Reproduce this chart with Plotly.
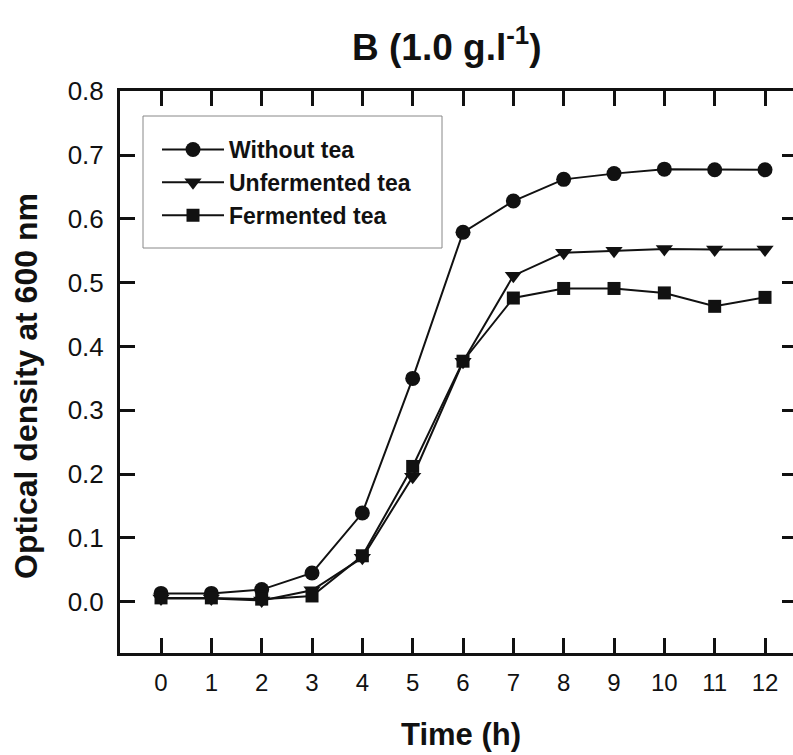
import plotly.graph_objects as go

# ---- data ----
time_h = [0, 1, 2, 3, 4, 5, 6, 7, 8, 9, 10, 11, 12]
without_tea = [0.013, 0.013, 0.019, 0.045, 0.139, 0.350, 0.579, 0.628, 0.662, 0.671, 0.678, 0.677, 0.677]
unfermented_tea = [0.005, 0.005, 0.002, 0.018, 0.069, 0.196, 0.376, 0.511, 0.547, 0.550, 0.553, 0.552, 0.552]
fermented_tea = [0.006, 0.006, 0.004, 0.009, 0.072, 0.212, 0.377, 0.476, 0.491, 0.491, 0.484, 0.463, 0.477]
series_names = ["Without tea", "Unfermented tea", "Fermented tea"]
y_ticks = [0.0, 0.1, 0.2, 0.3, 0.4, 0.5, 0.6, 0.7, 0.8]
x_ticks = time_h

FONT = "Liberation Sans, Arial, Helvetica, sans-serif"
W, H = 793, 755
ML, MR, MT, MB = 120, 0, 91, 102
PW, PH = W - ML - MR, H - MT - MB


def px(x):
    return (x - ML) / PW


def py(y):
    return (H - MB - y) / PH


fig = go.Figure()
series = [
    (without_tea, "circle", 15),
    (unfermented_tea, "triangle-down", 15),
    (fermented_tea, "square", 13),
]
for i, (vals, sym, size) in enumerate(series):
    fig.add_trace(go.Scatter(
        x=time_h, y=vals, name=series_names[i], mode="lines+markers",
        line=dict(color="#111111", width=2),
        marker=dict(symbol=sym, size=size, color="#111111"),
        legendgroup=f"g{i}",
    ))

# invisible trace to carry right-hand ticks
fig.add_trace(go.Scatter(x=[0], y=[0], yaxis="y2", mode="markers",
                         marker=dict(opacity=0), showlegend=False, hoverinfo="skip"))

fig.update_layout(
    width=W, height=H, autosize=False,
    margin=dict(l=ML, r=MR, t=MT, b=MB, pad=0),
    paper_bgcolor="white", plot_bgcolor="white",
    font=dict(family=FONT, color="#111111"),
    showlegend=True,
    legend=dict(
        x=px(157), y=py(128), xanchor="left", yanchor="top",
        bgcolor="rgba(0,0,0,0)", borderwidth=0,
        font=dict(family=FONT, size=23, color="#111111", weight="bold"),
        itemwidth=62, tracegroupgap=0, traceorder="grouped",
    ),
    xaxis=dict(
        range=[-0.815, 12.556], tickvals=x_ticks, ticktext=[str(v) for v in x_ticks],
        ticks="inside", ticklen=15, tickwidth=3, tickcolor="#111111",
        showline=True, linewidth=3, linecolor="#111111", mirror="ticks",
        showgrid=False, zeroline=False,
        tickfont=dict(family=FONT, size=24, color="#111111"),
        ticklabelstandoff=6,
    ),
    yaxis=dict(
        range=[-0.0804, 0.8005], tickvals=y_ticks, ticktext=[f"{v:.1f}" for v in y_ticks],
        ticks="inside", ticklen=15, tickwidth=3, tickcolor="#111111",
        showline=True, linewidth=3, linecolor="#111111", mirror=False,
        showgrid=False, zeroline=False,
        tickfont=dict(family=FONT, size=26, color="#111111"),
        ticklabelstandoff=8,
    ),
    yaxis2=dict(
        overlaying="y", side="right", range=[-0.0804, 0.8005], tickvals=y_ticks,
        ticks="inside", ticklen=11, tickwidth=3, tickcolor="#111111",
        showticklabels=False, showline=False, showgrid=False, zeroline=False,
    ),
    shapes=[dict(
        type="rect", xref="paper", yref="paper",
        x0=px(143), x1=px(442), y0=py(248), y1=py(116),
        line=dict(color="#888888", width=1), fillcolor="rgba(0,0,0,0)", layer="below",
    )],
    annotations=[
        dict(text="<b>B (1.0 g.l<sup>-1</sup>)</b>", xref="paper", yref="paper",
             x=px(447), y=py(45), xanchor="center", yanchor="middle", showarrow=False,
             font=dict(family=FONT, size=37, color="#111111")),
        dict(text="<b>Time (h)</b>", xref="paper", yref="paper",
             x=px(461), y=py(734), xanchor="center", yanchor="middle", showarrow=False,
             font=dict(family=FONT, size=31, color="#111111")),
        dict(text="<b>Optical density at 600 nm</b>", xref="paper", yref="paper",
             x=px(26), y=py(386), xanchor="center", yanchor="middle", showarrow=False,
             textangle=-90, font=dict(family=FONT, size=32, color="#111111")),
    ],
)

fig.write_html("out.html")
